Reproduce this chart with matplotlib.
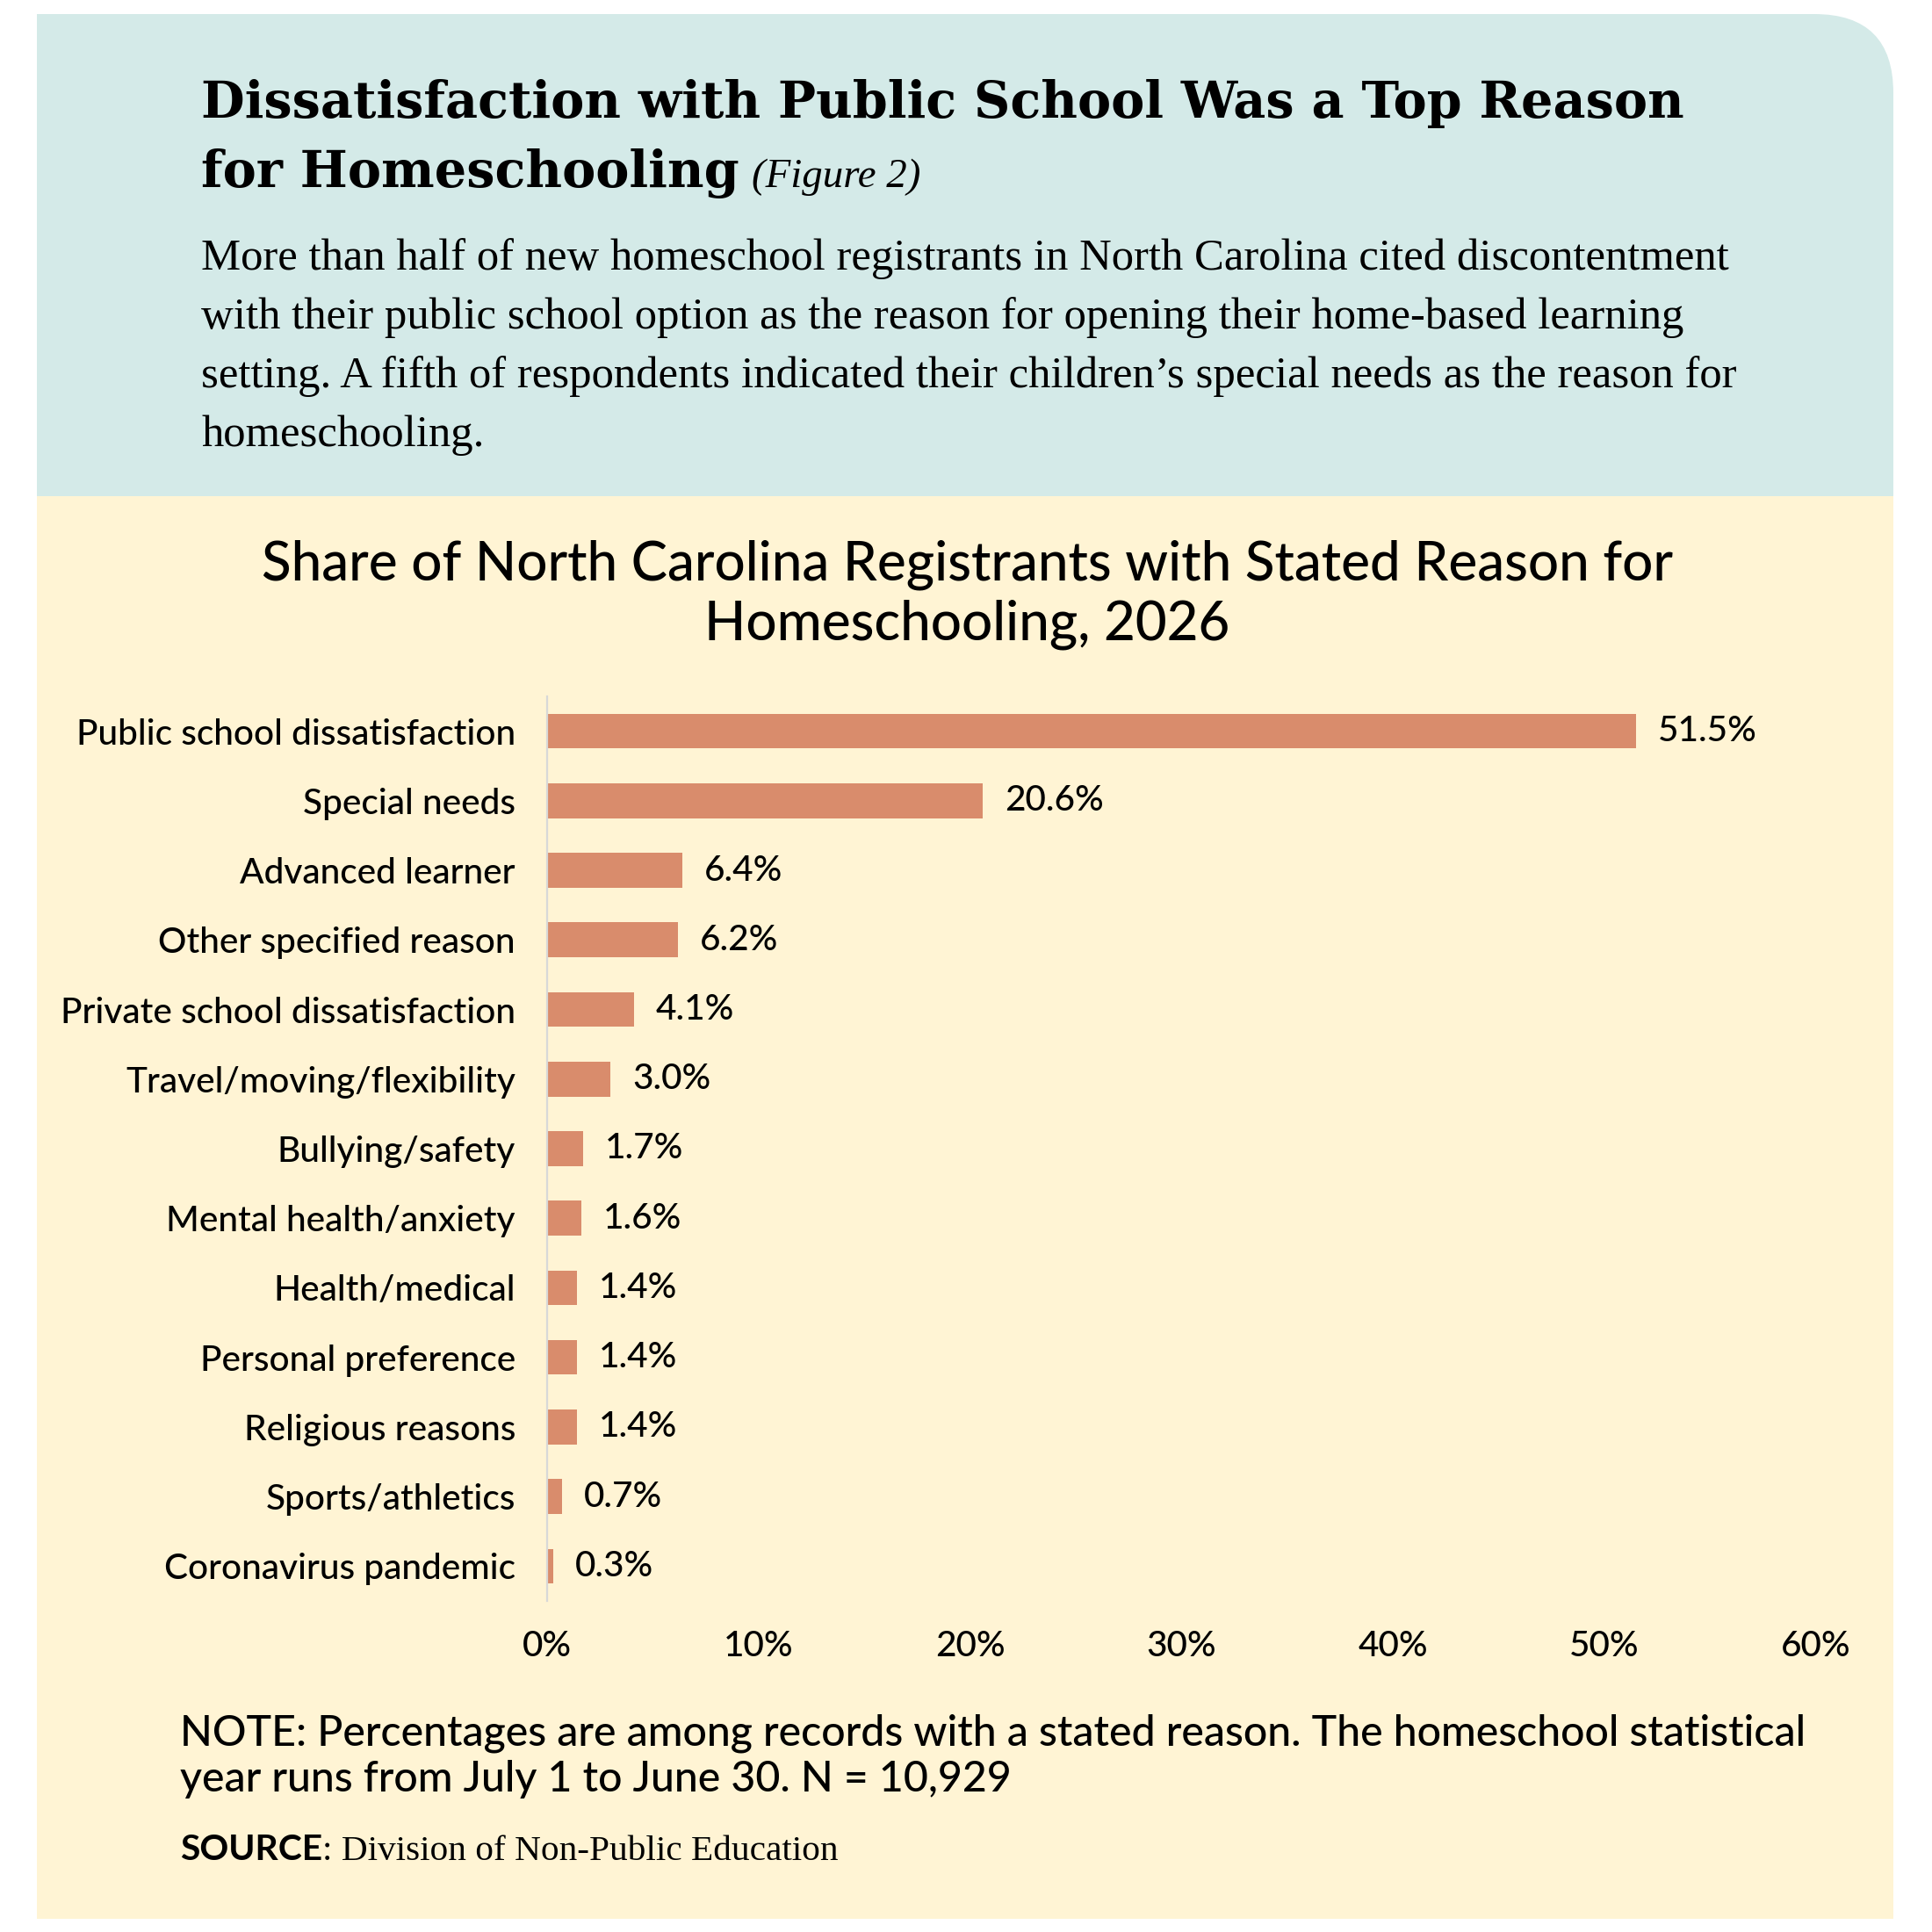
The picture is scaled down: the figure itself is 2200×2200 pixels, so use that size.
import matplotlib
matplotlib.use('Agg')
import matplotlib.pyplot as plt
from matplotlib.patches import Rectangle, FancyBboxPatch

categories = ['Public school dissatisfaction', 'Special needs', 'Advanced learner',
              'Other specified reason', 'Private school dissatisfaction',
              'Travel/moving/flexibility', 'Bullying/safety', 'Mental health/anxiety',
              'Health/medical', 'Personal preference', 'Religious reasons',
              'Sports/athletics', 'Coronavirus pandemic']
shares = [51.5, 20.6, 6.4, 6.2, 4.1, 3.0, 1.7, 1.6, 1.4, 1.4, 1.4, 0.7, 0.3]
xticks = [0, 10, 20, 30, 40, 50, 60]

title1 = 'Dissatisfaction with Public School Was a Top Reason'
title2 = 'for Homeschooling'
fig_tag = '(Figure 2)'
body = ['More than half of new homeschool registrants in North Carolina cited discontentment',
        'with their public school option as the reason for opening their home-based learning',
        'setting. A fifth of respondents indicated their children\u2019s special needs as the reason for',
        'homeschooling.']
chart_title = ['Share of North Carolina Registrants with Stated Reason for',
               'Homeschooling, 2026']
note = ['NOTE: Percentages are among records with a stated reason. The homeschool statistical',
        'year runs from July 1 to June 30. N = 10,929']
source_src = ': Division of Non-Public Education'

TEAL = '#d4eae8'
CREAM = '#fff4d4'
BAR = '#d98c6c'
SANS = 'Lato'
SERIF_HEAD = 'DejaVu Serif'
SERIF = 'Liberation Serif'

W = H = 2200
fig = plt.figure(figsize=(11, 11), dpi=200)
renderer = fig.canvas.get_renderer()

# background axes in pixel units (y downwards)
bg = fig.add_axes([0, 0, 1, 1])
bg.set_xlim(0, W)
bg.set_ylim(H, 0)
bg.axis('off')


def fit_size(txt, width_px, **kw):
    t = bg.text(0, 0, txt, fontsize=20, **kw)
    w = t.get_window_extent(renderer).width
    t.remove()
    return 20 * width_px / w


def text_width(t):
    return t.get_window_extent(renderer).width


# panels
bg.add_patch(FancyBboxPatch((42, 16), 2114, 400, boxstyle='round,pad=0,rounding_size=90',
                            fc=TEAL, ec='none'))
bg.add_patch(Rectangle((42, 16), 1900, 549, fc=TEAL, ec='none'))
bg.add_patch(Rectangle((42, 200), 2114, 365, fc=TEAL, ec='none'))
bg.add_patch(Rectangle((42, 565), 2114, 1620, fc=CREAM, ec='none'))

# headline
s = fit_size(title1, 1686, family=SERIF_HEAD, weight='bold')
bg.text(229, 134, title1, family=SERIF_HEAD, weight='bold', fontsize=s, va='baseline')
t2 = bg.text(229, 213, title2, family=SERIF_HEAD, weight='bold', fontsize=s, va='baseline')
s_fig = fit_size(fig_tag, 192, family=SERIF, style='italic')
bg.text(229 + text_width(t2) + 14, 213, fig_tag, family=SERIF, style='italic',
        fontsize=s_fig, va='baseline')

s = fit_size(body[0], 1737, family=SERIF)
for i, line in enumerate(body):
    bg.text(229, 307 + i * 67, line, family=SERIF, fontsize=s, va='baseline')

# chart title
s = fit_size(chart_title[0], 1605, family=SANS, weight='medium')
for i, line in enumerate(chart_title):
    bg.text(1101, 661 + i * 67, line, family=SANS, weight='medium', fontsize=s,
            ha='center', va='baseline')

# note and source
s = fit_size(note[0], 1852, family=SANS, weight='medium')
for i, line in enumerate(note):
    bg.text(205, 1987 + i * 53, line, family=SANS, weight='medium', fontsize=s, va='baseline')
s_src = fit_size('SOURCE', 162, family=SANS, weight='bold')
ts = bg.text(205, 2118, 'SOURCE', family=SANS, weight='bold', fontsize=s_src, va='baseline')
s = fit_size(source_src[2:], 565, family=SERIF)
bg.text(205 + text_width(ts), 2118, source_src, family=SERIF, fontsize=s, va='baseline')

# bar chart
lab_size = fit_size('Private school dissatisfaction', 516, family=SANS, weight='medium')
ax = fig.add_axes([623 / W, 1 - 1823 / H, (2068 - 623) / W, (1823 - 793) / H])
ax.patch.set_alpha(0)
ypos = list(range(len(categories)))
bars = ax.barh(ypos, shares, height=0.5, color=BAR)
ax.set_xlim(0, 60)
ax.set_ylim(12.5, -0.5)
ax.set_yticks(ypos)
ax.set_yticklabels(categories, family=SANS, weight='medium', fontsize=lab_size)
ax.set_xticks(xticks)
ax.set_xticklabels(['%d%%' % v for v in xticks], family=SANS, weight='medium', fontsize=lab_size)
ax.tick_params(axis='y', length=0, pad=13)
ax.tick_params(axis='x', length=0, pad=12)
for side in ['top', 'right', 'bottom']:
    ax.spines[side].set_visible(False)
ax.spines['left'].set_color('#d8d8d8')
ax.spines['left'].set_linewidth(0.8)
ax.bar_label(bars, labels=['%.1f%%' % v for v in shares], padding=9,
             family=SANS, weight='medium', fontsize=lab_size)

fig.savefig('out.png', dpi=200)
